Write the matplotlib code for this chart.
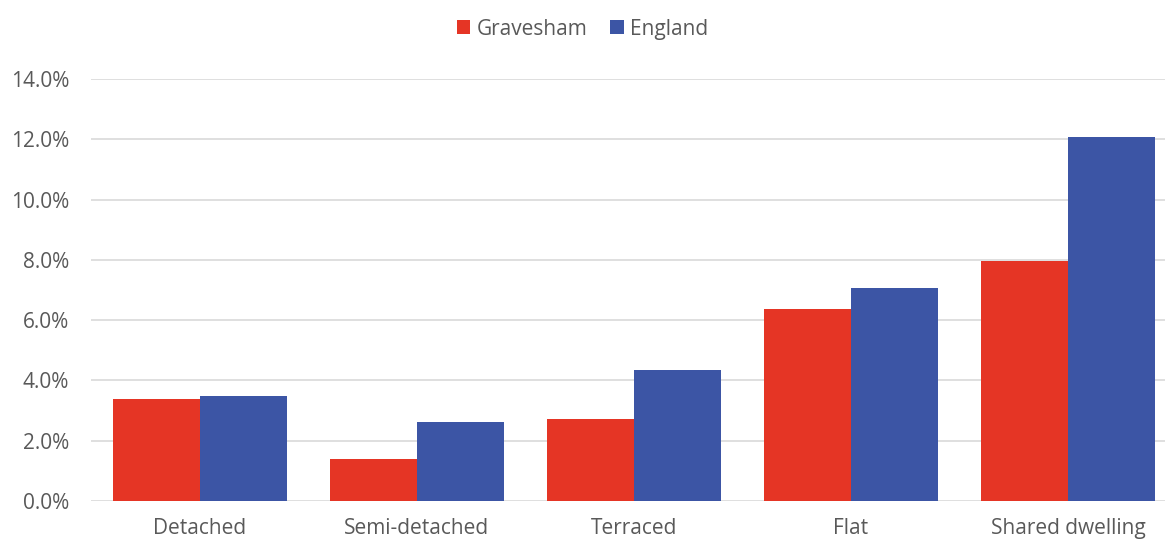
import matplotlib
matplotlib.use("Agg")
import matplotlib.pyplot as plt
import numpy as np
from matplotlib.ticker import FuncFormatter

categories = ["Detached", "Semi-detached", "Terraced", "Flat", "Shared dwelling"]
gravesham = [3.38, 1.39, 2.72, 6.37, 7.96]
england = [3.48, 2.62, 4.35, 7.07, 12.08]

RED = "#E53525"
BLUE = "#3C55A5"
TEXT = "#595959"

plt.rcParams['font.family'] = ['Open Sans', 'DejaVu Sans']

fig = plt.figure(figsize=(11.65, 5.43), dpi=100)
ax = fig.add_axes([0.0785, 0.0773, 0.9313, 0.7772])

x = np.arange(len(categories))
w = 0.4
ax.bar(x - w / 2, gravesham, w, color=RED, label="Gravesham", zorder=3)
ax.bar(x + w / 2, england, w, color=BLUE, label="England", zorder=3)

ax.set_xlim(-0.5, len(categories) - 0.5)
ax.set_ylim(0, 14)
ax.set_yticks(np.arange(0, 14.1, 2))
ax.yaxis.set_major_formatter(FuncFormatter(lambda v, p: f"{v:.1f}%"))
ax.set_xticks(x)
ax.set_xticklabels(categories)
ax.grid(axis="y", color="#D9D9D9", linewidth=1.2, zorder=0)
for s in ax.spines.values():
    s.set_visible(False)
ax.tick_params(length=0, labelsize=15, colors=TEXT, pad=16)
ax.tick_params(axis="x", pad=12)

fig.legend(loc="upper center", bbox_to_anchor=(0.5, 1.0), ncol=2, frameon=False,
           fontsize=15, labelcolor=TEXT, handlelength=0.65, handleheight=0.65,
           handletextpad=0.3, columnspacing=1.1)

fig.savefig("out.png", dpi=100)
